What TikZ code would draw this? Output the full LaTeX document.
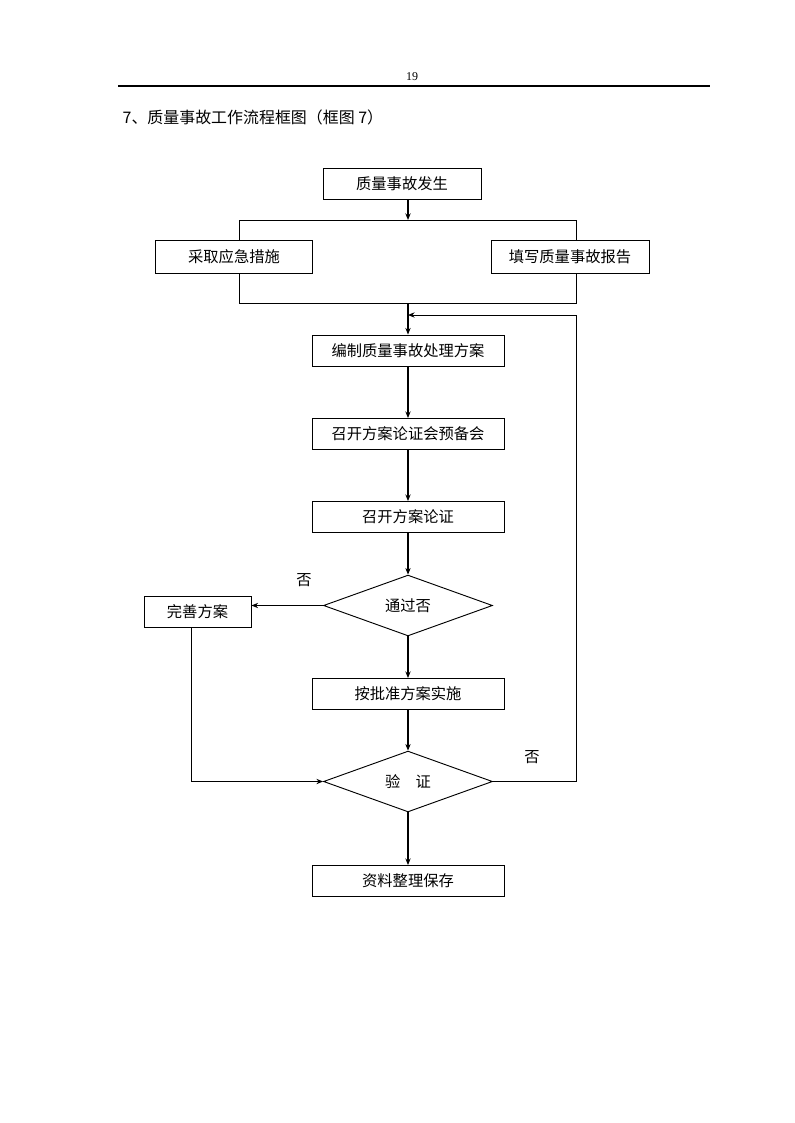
\documentclass[tikz,border=0pt]{standalone}
\usepackage{fontspec}
\setmainfont{Liberation Serif}
\newfontfamily\cjk{Noto Sans CJK SC}
\usetikzlibrary{arrows.meta,positioning,shapes.geometric}

\begin{document}
\begin{tikzpicture}[
  x=0.02646cm, y=-0.02646cm,
  every node/.style={font=\cjk\fontsize{11.5}{14}\selectfont},
  box/.style={draw, line width=0.7pt, fill=white, minimum width=5.08cm,
              minimum height=0.82cm, inner sep=0pt},
  check/.style={draw, diamond, line width=0.7pt, fill=white, minimum width=4.47cm,
                minimum height=1.61cm, inner sep=0pt},
  flow/.style={-{Stealth[length=5pt,width=4pt]}, line width=1.5pt},
  back/.style={-{Stealth[length=5pt,width=4pt]}, line width=0.7pt},
]
\useasboundingbox (0,0) rectangle (794,1123);

% ── Page head ──
\node[font=\rmfamily\fontsize{9}{10}\selectfont] (page) at (412,77) {19};
\coordinate (ruleL) at (118,86);
\coordinate (ruleR) at (710,86);
\draw[line width=0.8pt] (ruleL) -- (ruleR);
\node[anchor=west, font=\cjk\fontsize{12}{15}\selectfont] (title) at (118,117)
  {7、质量事故工作流程框图（框图 7）};

% ── Fork / join frame ──
\coordinate (fork)  at (408,220);
\coordinate (join)  at (408,303);
\coordinate (forkL) at (239,220);
\coordinate (joinR) at (576,303);
\coordinate (loop)  at (576,315);
\draw[line width=0.7pt] (forkL) rectangle (joinR);

% ── Boxes ──
\node[box, minimum width=4.18cm] (start) at (402,184) {质量事故发生};
\node[box, minimum width=4.13cm, minimum height=0.85cm] (act) at (234,257) {采取应急措施};
\node[box, minimum width=4.18cm, minimum height=0.85cm] (report) at (570,257) {填写质量事故报告};
\node[box] (plan)    at (408,350.5) {编制质量事故处理方案};
\node[box] (pre)     at (408,434)   {召开方案论证会预备会};
\node[box] (meet)    at (408,517)   {召开方案论证};
\node[check] (pass)  at (408,605.5) {通过否};
\node[box, minimum width=2.83cm] (revise) at (197.5,611.5) {完善方案};
\node[box] (impl)    at (408,694)   {按批准方案实施};
\node[check] (verify) at (408,781.5) {验\hspace{1em}证};
\node[box] (archive) at (408,881)   {资料整理保存};

% ── Labels ──
\node (nopass)   at (304,580) {否};
\node (noverify) at (532,757) {否};

% ── Arrows ──
\draw[flow] (start.south -| fork) -- (fork);
\draw[flow] (join) -- (plan.north);
\draw[flow] (plan) -- (pre);
\draw[flow] (pre) -- (meet);
\draw[flow] (meet) -- (pass);
\draw[flow] (pass) -- (impl);
\draw[flow] (impl) -- (verify);
\draw[flow] (verify) -- (archive);

% not passed / not verified
\draw[back] (pass.west) -- (pass.west -| revise.east);
\draw[back] ([xshift=-0.17cm]revise.south) |- (verify.west);
\draw[back] (verify.east) -| (loop) -- (loop -| join);

\end{tikzpicture}
\end{document}
